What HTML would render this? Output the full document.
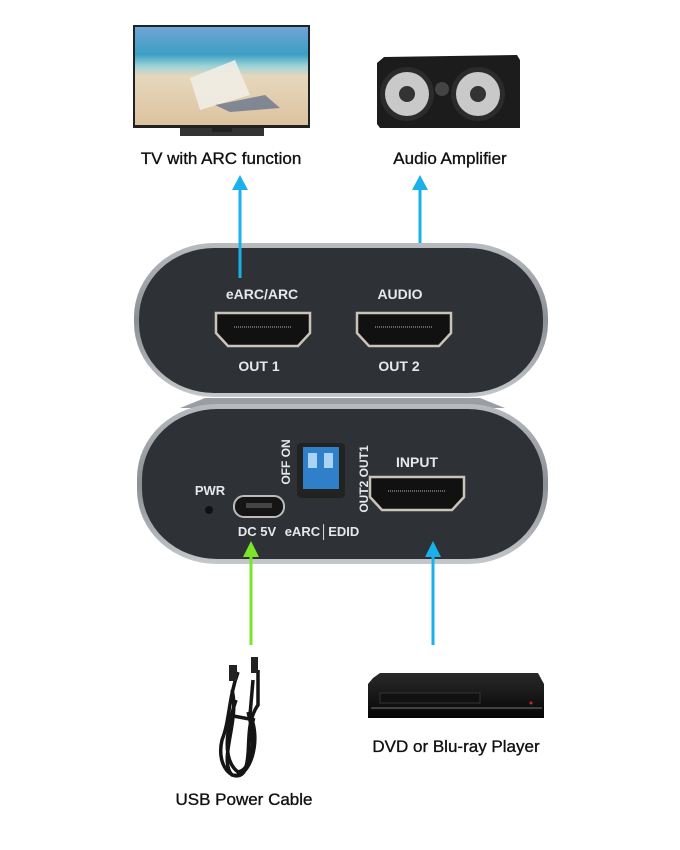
<!DOCTYPE html>
<html><head><meta charset="utf-8"><style>
html,body{margin:0;padding:0;background:#fff;width:680px;height:850px;overflow:hidden}
svg{display:block}
.lbl{font-family:"Liberation Sans","DejaVu Sans",sans-serif;font-size:17px;fill:#111;stroke:#111;stroke-width:0.35;text-anchor:middle}
.dev{font-family:"Liberation Sans",sans-serif;font-weight:bold;fill:#e6e8ea;text-anchor:middle}
</style></head><body>
<svg width="680" height="850" viewBox="0 0 680 850" xmlns="http://www.w3.org/2000/svg">
<defs>
<linearGradient id="sky" x1="0" y1="0" x2="0" y2="1">
<stop offset="0" stop-color="#6fa4d6"/><stop offset="0.28" stop-color="#3c9fc4"/><stop offset="0.4" stop-color="#9ed3d9"/><stop offset="0.5" stop-color="#e6d7bd"/><stop offset="1" stop-color="#dcc39f"/></linearGradient>
<linearGradient id="case" x1="0" y1="0" x2="0" y2="1"><stop offset="0" stop-color="#b8bcc0"/><stop offset="0.5" stop-color="#8a8f94"/><stop offset="1" stop-color="#c5c8cb"/></linearGradient>
<linearGradient id="blk" x1="0" y1="0" x2="0" y2="1"><stop offset="0" stop-color="#2a2a2a"/><stop offset="1" stop-color="#050505"/></linearGradient>
<g id="hdmi"><path d="M0 0 H94 V20 L82 33 H12 L0 20 Z" fill="#111" stroke="#c9c4b8" stroke-width="2.5"/><line x1="18" y1="14" x2="76" y2="14" stroke="#666" stroke-width="2" stroke-dasharray="1 1"/></g>
</defs>

<!-- TV -->
<rect x="133" y="25" width="177" height="103" fill="#222"/>
<rect x="135" y="27" width="173" height="98" fill="url(#sky)"/>
<path d="M190 78 L235 60 L250 95 L200 110 Z" fill="#f1ede4" opacity="0.9"/>
<path d="M215 105 L265 95 L280 108 L230 112 Z" fill="#5a6a8a" opacity="0.7"/>
<rect x="180" y="128" width="84" height="8" fill="#333"/>
<rect x="212" y="126" width="20" height="6" fill="#222"/>

<!-- Speaker -->
<path d="M377 63 L384 57 L517 55 L520 60 L520 128 L380 128 L377 124 Z" fill="#1c1c1c"/>
<circle cx="407" cy="94" r="27" fill="#2b2b2b"/><circle cx="407" cy="94" r="22" fill="#c9c9c9"/><circle cx="407" cy="94" r="8" fill="#333"/>
<circle cx="478" cy="94" r="27" fill="#2b2b2b"/><circle cx="478" cy="94" r="22" fill="#c9c9c9"/><circle cx="478" cy="94" r="8" fill="#333"/>
<circle cx="442" cy="89" r="7" fill="#444"/>

<text class="lbl" x="221" y="164">TV with ARC function</text>
<text class="lbl" x="450" y="164">Audio Amplifier</text>

<!-- top arrows -->
<line x1="240" y1="188" x2="240" y2="268" stroke="#1ab0e8" stroke-width="3"/>
<path d="M232 190 L240 175 L248 190 Z" fill="#1ab0e8"/>
<line x1="420" y1="188" x2="420" y2="278" stroke="#1ab0e8" stroke-width="3"/>
<path d="M412 190 L420 175 L428 190 Z" fill="#1ab0e8"/>

<!-- connector between devices -->
<path d="M180 408 L205 398 L480 398 L505 408 Z" fill="#9a9ea2"/>

<!-- top device -->
<rect x="134" y="243" width="414" height="154" rx="80" ry="74" fill="url(#case)"/>
<rect x="139" y="248" width="404" height="145" rx="75" ry="70" fill="#2e3237"/>
<line x1="240" y1="230" x2="240" y2="278" stroke="#1ab0e8" stroke-width="3"/>
<text class="dev" x="262" y="299" font-size="14">eARC/ARC</text>
<text class="dev" x="400" y="299" font-size="14">AUDIO</text>
<use href="#hdmi" x="216" y="313"/>
<use href="#hdmi" x="357" y="313"/>
<text class="dev" x="259" y="371" font-size="14">OUT 1</text>
<text class="dev" x="399" y="371" font-size="14">OUT 2</text>

<!-- bottom device -->
<rect x="137" y="404" width="411" height="160" rx="80" ry="74" fill="url(#case)"/>
<rect x="142" y="409" width="401" height="150" rx="75" ry="70" fill="#2e3237"/>
<text class="dev" x="210" y="495" font-size="13">PWR</text>
<circle cx="209" cy="510" r="4" fill="#111"/>
<rect x="234" y="496" width="50" height="21" rx="10" fill="#151515" stroke="#bbb" stroke-width="2"/>
<rect x="246" y="503" width="26" height="5" fill="#444"/>
<text class="dev" x="257" y="536" font-size="13">DC 5V</text>
<text class="dev" x="322" y="536" font-size="13">eARC│EDID</text>
<rect x="297" y="443" width="48" height="55" rx="4" fill="#222"/>
<rect x="303" y="447" width="36" height="42" fill="#2f7fc9"/>
<rect x="308" y="453" width="9" height="15" fill="#a9d4f5"/><rect x="324" y="453" width="9" height="15" fill="#a9d4f5"/>
<text class="dev" font-size="12" transform="translate(290,462) rotate(-90)">OFF  ON</text>
<text class="dev" font-size="12" transform="translate(368,479) rotate(-90)">OUT2  OUT1</text>
<text class="dev" x="417" y="467" font-size="14">INPUT</text>
<use href="#hdmi" x="370" y="477"/>

<!-- bottom arrows -->
<line x1="251" y1="555" x2="251" y2="645" stroke="#7be52a" stroke-width="3"/>
<path d="M243 557 L251 541 L259 557 Z" fill="#7be52a"/>
<line x1="433" y1="555" x2="433" y2="645" stroke="#1ab0e8" stroke-width="3"/>
<path d="M425 557 L433 541 L441 557 Z" fill="#1ab0e8"/>

<!-- cable -->
<g fill="none" stroke="#151515" stroke-width="3.5">
<path d="M238 672 C228 700 230 720 222 740 C215 770 238 785 245 770 C252 750 244 725 258 705 L258 670"/>
<path d="M232 690 C240 720 218 760 232 775 C250 780 262 740 250 715 L253 680"/>
<path d="M236 700 C226 730 222 760 238 772 C252 770 256 740 248 712"/>
<path d="M228 715 L255 720"/>
</g>
<rect x="229" y="665" width="8" height="16" fill="#222"/><rect x="251" y="657" width="7" height="16" fill="#222"/>
<text class="lbl" x="244" y="805">USB Power Cable</text>

<!-- DVD -->
<path d="M373 678 L380 673 L538 673 L544 684 L544 718 L368 718 L368 684 Z" fill="url(#blk)"/>
<rect x="380" y="693" width="100" height="10" fill="#111" stroke="#333"/>
<line x1="371" y1="708" x2="542" y2="708" stroke="#777" stroke-width="1"/>
<circle cx="531" cy="703" r="1.5" fill="#d22"/>
<text class="lbl" x="456" y="752">DVD or Blu-ray Player</text>
</svg>
</body></html>
